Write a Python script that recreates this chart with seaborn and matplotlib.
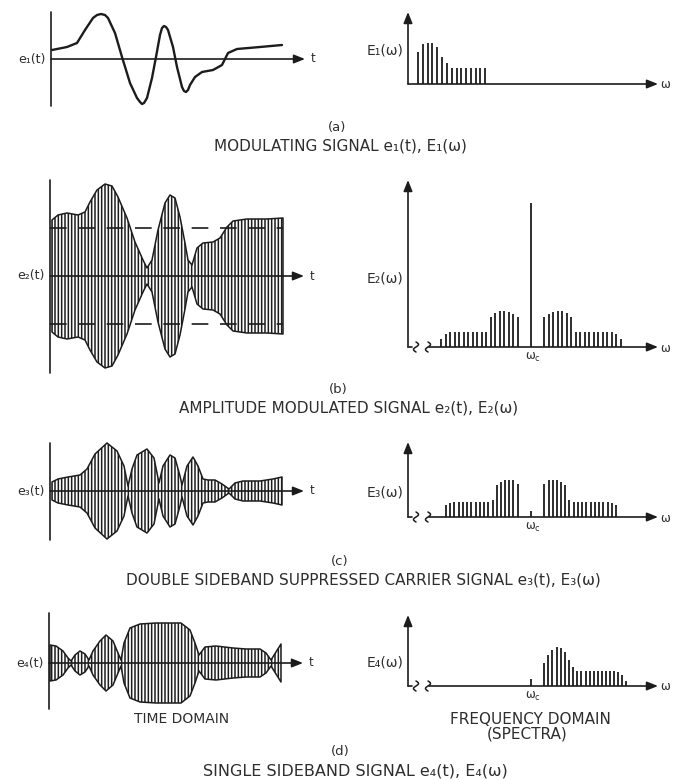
import numpy as np
import pandas as pd
import matplotlib
matplotlib.use('Agg')
import matplotlib.pyplot as plt
import seaborn as sns

# valores (unidades = pixeles del dibujo original)
# (a) senal moduladora e1(t)
e1_t = [1, 16, 26, 34, 42, 46, 50, 54, 57, 64, 71, 79, 86, 89, 91, 93, 96, 101, 105, 109,
        111, 113, 115, 117, 122, 126, 131, 133, 135, 137, 139, 144, 151, 162, 171, 177,
        186, 209, 231]
e1_v = [9, 12, 16, 29, 41, 44, 45, 44, 41, 26, 2, -24, -39, -43, -45, -44, -39, -19, 2, 24,
        31, 33, 32, 29, 12, -8, -28, -32, -33, -31, -26, -18, -13, -11, -6, 6,
        10, 12, 14]
E1_w = [10, 15, 20, 24, 29, 34, 39, 44, 49, 53, 58, 63, 68, 72, 77]
E1_h = [32, 40, 41, 41, 37, 27, 21, 16, 16, 16, 16, 16, 16, 16, 16]

# (b) AM: envolvente e2(t) y espectro
e2_t = [2, 8, 17, 28, 35, 40, 47, 55, 62, 68, 77, 85, 93, 97, 102, 108, 115, 120,
        125, 130, 135, 138, 142, 147, 153, 163, 170, 177, 183, 197, 217, 233]
e2_env = [56, 61, 63, 61, 64, 74, 86, 92, 90, 79, 58, 34, 16, 8, 16, 46, 73, 81,
          78, 59, 33, 16, 11, 28, 33, 34, 38, 49, 55, 57, 57, 58]
e2_ref = 48
wc = 123
E2_carrier = 144
E2_off = [13, 18, 22, 27, 31, 36, 40, 45, 49, 54, 58, 63, 67, 72, 76, 81, 85, 90]
E2_h = [30, 33, 35, 36, 36, 34, 30, 15, 15, 15, 15, 15, 15, 15, 15, 15, 13, 8]

# (c) DSB-SC
e3_t = [2, 8, 18, 30, 37, 45, 57, 67, 74, 78, 82, 87, 97, 104, 109, 113, 120, 125,
        130, 132, 137, 143, 148, 153, 158, 165, 172, 179, 185, 193, 210, 223, 232]
e3_env = [9, 12, 14, 16, 22, 37, 48, 40, 25, 5, 22, 36, 42, 33, 8, 25, 36, 33,
          15, 6, 25, 34, 25, 12, 11, 11, 7, 2, 8, 10, 10, 12, 14]
E3_off = [13, 18, 22, 26, 30, 34, 38, 43, 47, 51, 55, 60, 64, 68, 72, 77, 81, 85]
E3_h = [33, 37, 37, 37, 35, 32, 17, 15, 15, 15, 15, 15, 15, 15, 15, 15, 14, 12]

# (d) SSB
e4_t = [1, 7, 14, 19, 22, 26, 31, 36, 40, 44, 51, 57, 64, 69, 72, 75, 81, 91, 107,
        121, 132, 141, 146, 150, 156, 167, 184, 197, 211, 217, 222, 227, 232]
e4_env = [18, 17, 12, 5, 2, 8, 12, 9, 3, 12, 22, 28, 22, 10, 3, 20, 35, 39, 40,
          40, 40, 33, 20, 8, 16, 17, 15, 14, 14, 10, 3, 11, 19]
E4_off = [13, 17, 21, 26, 30, 34, 38, 42, 46, 50, 55, 59, 63, 67, 71, 75, 79, 83, 87, 91, 95]
E4_h = [23, 31, 36, 39, 38, 34, 26, 19, 15, 15, 15, 15, 15, 15, 15, 15, 15, 15, 14, 11, 5]

INK = '#1c1c1c'
TXT = '#2e2e2e'

sns.set_theme(style='white')
plt.rcParams['font.family'] = ['DejaVu Sans']
plt.rcParams['hatch.linewidth'] = 1.1
plt.rcParams['hatch.color'] = INK

W, H = 673, 780
fig = plt.figure(figsize=(6.73, 7.8), dpi=100)
fig.patch.set_facecolor('white')


def panel(ox, oy, x0, x1, y0, y1):
    # ejes en unidades de pixel, con el origen del dibujo en (ox, oy)
    ax = fig.add_axes([(ox + x0) / W, (H - oy + y0) / H, (x1 - x0) / W, (y1 - y0) / H])
    ax.set_xlim(x0, x1)
    ax.set_ylim(y0, y1)
    ax.axis('off')
    return ax


def flecha(ax, a, b):
    ax.annotate('', xy=b, xytext=a,
                arrowprops=dict(arrowstyle='-|>,head_length=0.55,head_width=0.22',
                                lw=1.2, color=INK, shrinkA=0, shrinkB=0))


def ejes_tiempo(ax, top, bottom, label):
    ax.plot([0, 0], [bottom, top], color=INK, lw=1.2, zorder=5)
    flecha(ax, (0, 0), (254, 0))
    ax.text(262, 0, 't', ha='center', va='center', fontsize=8.5, color=TXT)
    ax.text(-5, 0, label, ha='right', va='center', fontsize=9, color=TXT)


def corte(ax, x):
    s = np.linspace(-1, 1, 30)
    ax.plot(x + 2.5 * np.sin(np.pi * s), 5 * s, color=INK, lw=1.1)


def ejes_freq(ax, top, label, label_y, roto=True):
    flecha(ax, (0, 0), (0, top))
    if roto:
        ax.plot([0, 4], [0, 0], color=INK, lw=1.2)
        corte(ax, 8)
        corte(ax, 20)
        flecha(ax, (21, 0), (250, 0))
        ax.text(wc + 2, -4, r'$\mathregular{\omega_c}$', ha='center', va='top',
                fontsize=8.5, color=TXT)
    else:
        flecha(ax, (0, 0), (250, 0))
    ax.text(257, -1, 'ω', ha='center', va='center', fontsize=8.5, color=TXT)
    ax.text(-5, label_y, label, ha='right', va='center', fontsize=10, color=TXT)


def modulada(ax, t, env):
    t = np.array(t)
    env = np.array(env)
    ax.fill_between(t, -env, env, facecolor='white', edgecolor=INK, hatch='|||||',
                    lw=1.1, zorder=2)


def caption(x, y, s, size=11):
    fig.text(x / W, 1 - y / H, s, ha='center', va='center', fontsize=size, color=TXT)


# ---------- (a) ----------
ax = panel(51, 59, -50, 270, -50, 50)
ejes_tiempo(ax, 47, -47, 'e₁(t)')
df1 = pd.DataFrame({'t': e1_t, 'v': e1_v})
sns.lineplot(data=df1, x='t', y='v', ax=ax, sort=False, estimator=None,
             color=INK, lw=1.7, solid_joinstyle='round')
ax.axis('off')

ax = panel(408, 84, -60, 265, -10, 76)
ejes_freq(ax, 72, 'E₁(ω)', 34, roto=False)
ax.vlines(E1_w, 0, E1_h, color=INK, lw=1.3)

caption(337, 127, '(a)', 9.5)
caption(340, 146, 'MODULATING SIGNAL e₁(t), E₁(ω)')

# ---------- (b) ----------
ax = panel(50, 276, -50, 270, -100, 100)
ejes_tiempo(ax, 96, -97, 'e₂(t)')
modulada(ax, e2_t, e2_env)
for lvl in (e2_ref, -e2_ref):
    ax.plot([0, e2_t[-1]], [lvl, lvl], color=INK, lw=1.2, ls=(0, (10, 7)), zorder=4)

ax = panel(408, 347, -60, 265, -20, 170)
ejes_freq(ax, 167, 'E₂(ω)', 68)
ax.vlines([wc], 0, [E2_carrier], color=INK, lw=1.3)
ax.vlines([wc + o for o in E2_off], 0, E2_h, color=INK, lw=1.3)
ax.vlines([wc - o for o in E2_off], 0, E2_h, color=INK, lw=1.3)

caption(338, 390, '(b)', 9.5)
caption(349, 408, 'AMPLITUDE MODULATED SIGNAL e₂(t), E₂(ω)')

# ---------- (c) ----------
ax = panel(50, 491, -50, 270, -52, 52)
ejes_tiempo(ax, 48, -49, 'e₃(t)')
modulada(ax, e3_t, e3_env)

ax = panel(408, 517, -60, 265, -20, 78)
ejes_freq(ax, 75, 'E₃(ω)', 24)
ax.vlines([wc], 0, [6], color=INK, lw=1.3)
ax.vlines([wc + o for o in E3_off], 0, E3_h, color=INK, lw=1.3)
ax.vlines([wc - o for o in E3_off], 0, E3_h, color=INK, lw=1.3)

caption(340, 562, '(c)', 9.5)
caption(363, 580, 'DOUBLE SIDEBAND SUPPRESSED CARRIER SIGNAL e₃(t), E₃(ω)')

# ---------- (d) ----------
ax = panel(49, 663, -50, 270, -50, 54)
ejes_tiempo(ax, 50, -46, 'e₄(t)')
modulada(ax, e4_t, e4_env)

ax = panel(408, 686, -60, 265, -20, 74)
ejes_freq(ax, 71, 'E₄(ω)', 23)
ax.vlines([wc], 0, [7], color=INK, lw=1.3)
ax.vlines([wc + o for o in E4_off], 0, E4_h, color=INK, lw=1.3)

caption(182, 719, 'TIME DOMAIN', 10)
caption(530, 720, 'FREQUENCY DOMAIN')
caption(527, 734, '(SPECTRA)')
caption(340, 752, '(d)', 9.5)
caption(355, 771, 'SINGLE SIDEBAND SIGNAL e₄(t), E₄(ω)', 11.5)

fig.savefig('out.png', dpi=100, facecolor='white')
